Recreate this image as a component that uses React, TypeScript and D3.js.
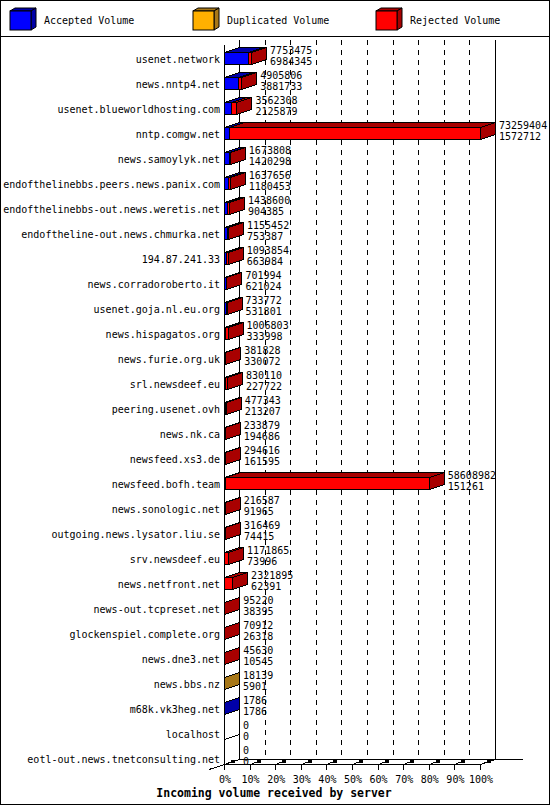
import React, { useEffect, useRef } from 'react';
import * as d3 from 'd3';

const servers = [
  'usenet.network',
  'news.nntp4.net',
  'usenet.blueworldhosting.com',
  'nntp.comgw.net',
  'news.samoylyk.net',
  'endofthelinebbs.peers.news.panix.com',
  'endofthelinebbs-out.news.weretis.net',
  'endoftheline-out.news.chmurka.net',
  '194.87.241.33',
  'news.corradoroberto.it',
  'usenet.goja.nl.eu.org',
  'news.hispagatos.org',
  'news.furie.org.uk',
  'srl.newsdeef.eu',
  'peering.usenet.ovh',
  'news.nk.ca',
  'newsfeed.xs3.de',
  'newsfeed.bofh.team',
  'news.sonologic.net',
  'outgoing.news.lysator.liu.se',
  'srv.newsdeef.eu',
  'news.netfront.net',
  'news-out.tcpreset.net',
  'glockenspiel.complete.org',
  'news.dne3.net',
  'news.bbs.nz',
  'm68k.vk3heg.net',
  'localhost',
  'eotl-out.news.tnetconsulting.net'
];

const acceptedVolume = [
  6984345, 3881733, 2125879, 1572712, 1420298, 1180453, 904385, 753387, 663984,
  621024, 531801, 333998, 330072, 227722, 213207, 194686, 161595, 151261, 91965,
  74415, 73996, 62391, 38395, 26318, 10545, 5901, 1786, 0, 0
];

const duplicatedVolume = [
  0, 0, 0, 0, 0, 0, 0, 0, 0, 0, 0, 0, 0, 0, 0, 0, 0, 0, 0, 0, 0, 0, 0, 0, 0,
  12238, 0, 0, 0
];

const rejectedVolume = [
  769130, 1024073, 1436429, 71686692, 253510, 457203, 534215, 402065, 429870,
  80970, 201971, 672805, 51756, 602388, 264136, 39193, 133021, 58457721, 124622,
  242054, 1097869, 2259504, 56825, 44594, 35085, 0, 0, 0, 0
];

const legendLabels = ['Accepted Volume', 'Duplicated Volume', 'Rejected Volume'];
const percentTicks = [0, 10, 20, 30, 40, 50, 60, 70, 80, 90, 100];

const COLORS = ['#0000ff', '#ffb000', '#ff0000'];
const DARK = ['#0000a8', '#a87818', '#a80000'];
const MONO = '"DejaVu Sans Mono", "Liberation Mono", monospace';

const WIDTH = 550;
const HEIGHT = 805;

const App: React.FC = () => {
  const svgRef = useRef<SVGSVGElement>(null);

  useEffect(() => {
    if (!svgRef.current) return;
    const svg = d3.select(svgRef.current);
    svg.selectAll('*').remove();

    const dx = 15;
    const dy = -5;

    const rows = servers.map((s, i) => ({
      server: s,
      parts: [acceptedVolume[i], duplicatedVolume[i], rejectedVolume[i]],
      total: acceptedVolume[i] + duplicatedVolume[i] + rejectedVolume[i],
      accepted: acceptedVolume[i]
    }));

    const x = d3.scaleLinear()
      .domain([0, d3.max(rows, d => d.total) || 1])
      .range([224, 480]);
    const xp = d3.scaleLinear().domain([0, 100]).range([224, 480]);
    const y = d3.scaleBand()
      .domain(servers)
      .range([46.5, 46.5 + servers.length * 25])
      .padding(0);
    const cy = (s: string) => (y(s) || 0) + y.bandwidth() / 2;

    // background + frame
    svg.append('rect')
      .attr('x', 0.5).attr('y', 0.5)
      .attr('width', WIDTH - 1).attr('height', HEIGHT - 1)
      .attr('fill', '#fff').attr('stroke', '#000');
    svg.append('line')
      .attr('x1', 0).attr('x2', WIDTH)
      .attr('y1', 36.5).attr('y2', 36.5)
      .attr('stroke', '#000');

    const box = (
      parent: d3.Selection<SVGGElement, unknown, null, undefined>,
      x0: number, x1: number, top: number, bottom: number, k: number
    ) => {
      parent.append('polygon')
        .attr('points', [[x0, top], [x0 + dx, top + dy], [x1 + dx, top + dy], [x1, top]].join(' '))
        .attr('fill', DARK[k]).attr('stroke', '#000');
      parent.append('polygon')
        .attr('points', [[x1, top], [x1 + dx, top + dy], [x1 + dx, bottom + dy], [x1, bottom]].join(' '))
        .attr('fill', DARK[k]).attr('stroke', '#000');
      parent.append('rect')
        .attr('x', x0).attr('y', top)
        .attr('width', x1 - x0).attr('height', bottom - top)
        .attr('fill', COLORS[k]).attr('stroke', '#000');
    };

    // legend
    const legend = svg.append('g');
    const legendX = [10, 193, 376];
    legendLabels.forEach((label, k) => {
      const lx = legendX[k];
      const lg = legend.append('g');
      lg.append('polygon')
        .attr('points', [[lx, 11], [lx + 5, 8], [lx + 26, 8], [lx + 21, 11]].join(' '))
        .attr('fill', DARK[k]).attr('stroke', '#000');
      lg.append('polygon')
        .attr('points', [[lx + 21, 11], [lx + 26, 8], [lx + 26, 27], [lx + 21, 30]].join(' '))
        .attr('fill', DARK[k]).attr('stroke', '#000');
      lg.append('rect')
        .attr('x', lx).attr('y', 11).attr('width', 21).attr('height', 19)
        .attr('fill', COLORS[k]).attr('stroke', '#000');
      legend.append('text')
        .attr('x', lx + 34).attr('y', 20)
        .attr('dy', '0.35em')
        .style('font-family', MONO).style('font-size', '10px')
        .text(label);
    });

    const g = svg.append('g').attr('shape-rendering', 'crispEdges');

    // back grid (dashed)
    g.selectAll('.grid')
      .data(percentTicks.slice(1, -1))
      .enter().append('line')
      .attr('x1', d => Math.round(xp(d) + dx) + 0.5)
      .attr('x2', d => Math.round(xp(d) + dx) + 0.5)
      .attr('y1', 40).attr('y2', 759)
      .attr('stroke', '#000')
      .attr('stroke-dasharray', '5,5');

    // walls
    const wall = [
      [224.5, 45, 224.5, 764.5],
      [239.5, 40, 239.5, 759.5],
      [495.5, 40, 495.5, 759.5],
      [209, 769.5, 224.5, 764.5],
      [224.5, 764.5, 480.5, 764.5],
      [480.5, 764.5, 495.5, 759.5],
      [239.5, 759.5, 523, 759.5]
    ];
    g.selectAll('.wall')
      .data(wall)
      .enter().append('line')
      .attr('x1', d => d[0]).attr('y1', d => d[1])
      .attr('x2', d => d[2]).attr('y2', d => d[3])
      .attr('stroke', '#000');

    // ticks
    percentTicks.forEach(t => {
      const tx = Math.round(xp(t)) + 0.5;
      g.append('line')
        .attr('x1', tx).attr('x2', tx).attr('y1', 764.5).attr('y2', 769.5)
        .attr('stroke', '#000');
      g.append('line')
        .attr('x1', tx).attr('x2', tx + 6).attr('y1', 764.5).attr('y2', 762)
        .attr('stroke', '#000');
      g.append('rect')
        .attr('x', tx + 6).attr('y', 760).attr('width', 4).attr('height', 3)
        .attr('fill', '#000');
    });

    svg.selectAll('.tick-label')
      .data(percentTicks)
      .enter().append('text')
      .attr('x', d => xp(d) + 1)
      .attr('y', 779)
      .attr('dy', '0.35em')
      .attr('text-anchor', 'middle')
      .style('font-family', MONO).style('font-size', '10px')
      .text(d => `${d}%`);

    // bars
    rows.forEach(r => {
      const c = cy(r.server);
      const top = Math.round(c - 7) + 0.5;
      const bottom = top + 12;
      if (r.total === 0) {
        g.append('line')
          .attr('x1', 224.5).attr('y1', bottom)
          .attr('x2', 224.5 + dx).attr('y2', bottom + dy)
          .attr('stroke', '#000');
        return;
      }
      let acc = 0;
      r.parts.forEach((v, k) => {
        if (v === 0) return;
        const x0 = Math.round(x(acc)) + 0.5;
        acc += v;
        const x1 = Math.round(x(acc)) + 0.5;
        box(g, x0, x1, top, bottom, k);
      });
    });

    // server labels
    svg.selectAll('.server')
      .data(rows)
      .enter().append('text')
      .attr('x', 220)
      .attr('y', d => cy(d.server))
      .attr('dy', '0.35em')
      .attr('text-anchor', 'end')
      .style('font-family', MONO).style('font-size', '10px')
      .text(d => d.server);

    // values
    const vals = svg.selectAll('.vals')
      .data(rows)
      .enter().append('g');
    vals.append('text')
      .attr('x', d => x(d.total) + dx + 4)
      .attr('y', d => cy(d.server) - 8.5)
      .attr('dy', '0.35em')
      .style('font-family', MONO).style('font-size', '10px')
      .text(d => d.total);
    vals.append('text')
      .attr('x', d => x(d.total) + dx + 4)
      .attr('y', d => cy(d.server) + 2)
      .attr('dy', '0.35em')
      .style('font-family', MONO).style('font-size', '10px')
      .text(d => d.accepted);

    // axis title
    svg.append('text')
      .attr('x', 274).attr('y', 793)
      .attr('dy', '0.35em')
      .attr('text-anchor', 'middle')
      .style('font-family', MONO).style('font-size', '11.5px')
      .style('font-weight', 'bold')
      .text('Incoming volume received by server');
  }, []);

  return (
    <svg
      ref={svgRef}
      width={WIDTH}
      height={HEIGHT}
      style={{ position: 'fixed', left: 0, top: 0, background: '#fff' }}
    />
  );
};

export default App;
